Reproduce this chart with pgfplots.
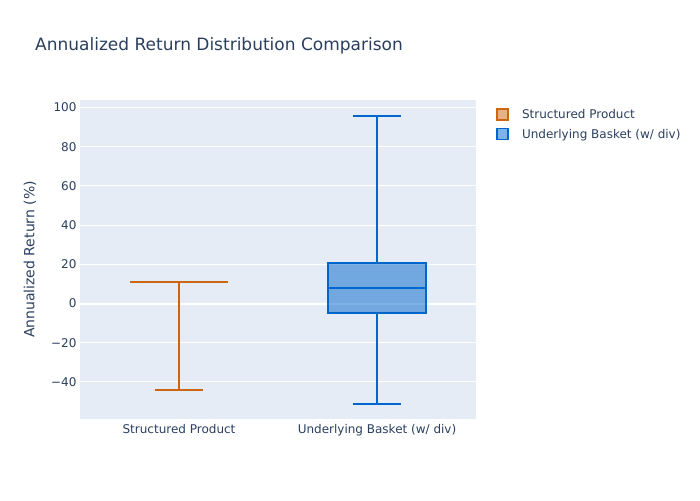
\documentclass[border=0pt]{standalone}
\usepackage{pgfplots}
\pgfplotsset{compat=1.18}
\usepackage{fontspec}
\setmainfont{DejaVu Sans}
\definecolor{txt}{HTML}{2A3F5F}
\definecolor{bg}{HTML}{E5ECF6}
\definecolor{sp}{HTML}{CC6611}
\definecolor{ub}{HTML}{0066CC}
\begin{document}
\begin{tikzpicture}
\path[fill=white] (0pt,0pt) rectangle (700pt,500pt);
\begin{axis}[
  at={(80pt,81pt)}, anchor=south west, scale only axis,
  width=396pt, height=319pt,
  xmin=-0.5, xmax=1.5, ymin=-58.9, ymax=103.8,
  axis background/.style={fill=bg},
  axis line style={draw=none},
  ymajorgrids, grid style={white, line width=1pt},
  major tick length=0pt,
  xtick={0,1},
  xticklabels={Structured Product, Underlying Basket (w/ div)},
  ytick={-40,-20,0,20,40,60,80,100},
  yticklabels={−40,−20,0,20,40,60,80,100},
  tick label style={font=\fontsize{12}{14}\selectfont, text=txt},
  xticklabel style={yshift=-2pt},
  ylabel={Annualized Return (\%)},
  ylabel style={font=\fontsize{14}{16}\selectfont, text=txt,
    at={(axis description cs:-0.126,0.5)}, anchor=center},
  legend style={draw=none, fill=white, text=txt,
    font=\fontsize{12}{14}\selectfont,
    at={(axis description cs:1.04,0.984)}, anchor=north west,
    row sep=5pt, inner sep=2pt},
  legend cell align=left,
  legend image code/.code={%
    \draw[#1] (3pt,-5.5pt) rectangle (14pt,5.5pt);
    \path[draw=none, fill=none] (0pt,0pt) -- (26pt,0pt);},
  every axis plot/.append style={forget plot, line width=2pt, mark=none},
]
% zero line
\draw[white, line width=2pt] (axis cs:-0.5,0) -- (axis cs:1.5,0);

\addlegendimage{draw=sp, fill=sp, fill opacity=0.5, line width=1.5pt}
\addlegendentry{Structured Product}
\addlegendimage{draw=ub, fill=ub, fill opacity=0.5, line width=1.5pt}
\addlegendentry{Underlying Basket (w/ div)}

% Structured Product: quartiles, median and upper whisker coincide at 11
\addplot[draw=sp] coordinates {(-0.245,11) (0.245,11)};
\addplot[draw=sp] coordinates {(0,11) (0,-44.1)};
\addplot[draw=sp] coordinates {(-0.1225,-44.1) (0.1225,-44.1)};

% Underlying Basket: q1=-4.6, median=7.9, q3=20.7, whiskers -51.3 / 95.7
\addplot[draw=ub] coordinates {(1,20.7) (1,95.7)};
\addplot[draw=ub] coordinates {(1,-4.6) (1,-51.3)};
\addplot[draw=ub] coordinates {(0.8775,95.7) (1.1225,95.7)};
\addplot[draw=ub] coordinates {(0.8775,-51.3) (1.1225,-51.3)};
\addplot[draw=ub, fill=ub, fill opacity=0.5]
  coordinates {(0.755,-4.6) (1.245,-4.6) (1.245,20.7) (0.755,20.7)} -- cycle;
\addplot[draw=ub] coordinates {(0.755,7.9) (1.245,7.9)};
\end{axis}
\node[anchor=west, inner sep=0pt, font=\fontsize{17}{20}\selectfont, text=txt]
  at (35pt,454pt) {Annualized Return Distribution Comparison};
\end{tikzpicture}
\end{document}
